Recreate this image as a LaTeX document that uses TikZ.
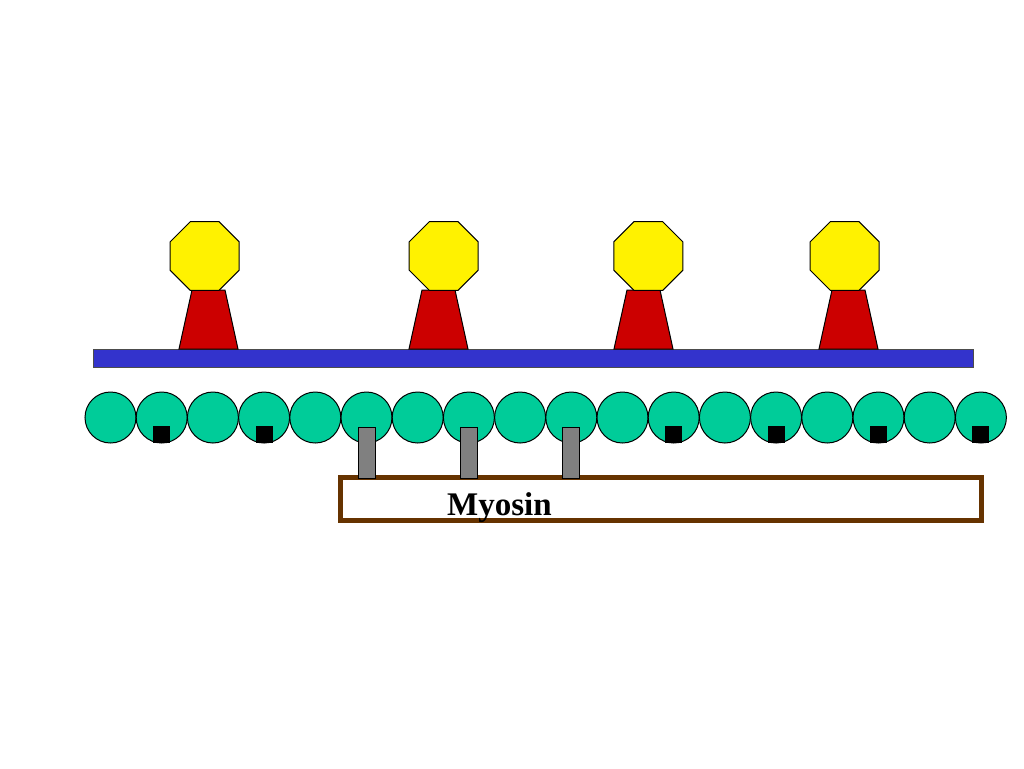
\documentclass[tikz,border=0pt]{standalone}
\usepackage{fontspec}
\setmainfont{Liberation Serif}
\usepackage{tikz}
\usetikzlibrary{positioning,calc}
\definecolor{actingreen}{HTML}{00CC99}
\definecolor{tropoblue}{HTML}{3333CC}
\definecolor{myobrown}{HTML}{663300}
\definecolor{capred}{HTML}{CC0000}
\tikzstyle{bead} = [circle, draw, fill=actingreen, inner sep=0pt,
    minimum size=25.5pt, line width=0.5pt]
\tikzstyle{site} = [rectangle, fill=black, inner sep=0pt,
    minimum width=8.5pt, minimum height=8.5pt]
\tikzstyle{xbridge} = [rectangle, draw, fill=gray, inner sep=0pt,
    minimum width=8.5pt, minimum height=25.5pt, line width=0.5pt]
\tikzstyle{ball} = [draw, fill=yellow, line width=0.5pt]
\tikzstyle{stem} = [draw, fill=capred, line width=0.5pt]
\begin{document}
\begin{tikzpicture}[x=0.5pt,y=-0.5pt]
  \useasboundingbox (0,0) rectangle (1024,768);
  % tropomyosin strand
  \draw[fill=tropoblue, draw=black!70, line width=0.5pt]
    (93,349) rectangle (973,367);
  % troponin: stem and octagon head
  \foreach \xb/\xo [count=\k] in {179/204.7, 409/443.7, 614/648.3, 819/844.7} {
    \draw[stem] (\xb,349) -- (\xb+13,290) -- (\xb+46,290) -- (\xb+59,349) -- cycle;
    \draw[ball] ($(\xo,256)+(22.5:37.3)$)
      \foreach \a in {67.5,112.5,...,337.5} { -- ($(\xo,256)+(\a:37.3)$) } -- cycle;
  }
  % actin beads
  \foreach \i in {1,...,18}
    \node[bead] (b\i) at (59.3+51.2*\i,417.5) {};
  \foreach \i in {2,4,12,14,16,18}
    \node[site, anchor=south] (s\i) at (b\i.south) {};
  % myosin filament with heads
  \node[draw=myobrown, line width=2.2pt, inner sep=0pt, minimum width=320.5pt,
        minimum height=21.5pt] (myo) at (661,499) {};
  \foreach \i in {6,8,10}
    \node[xbridge, anchor=north] (h\i) at ([yshift=-4.5pt]b\i.center) {};
  \node[anchor=base, font=\fontsize{16.5}{18}\selectfont\bfseries]
    (lbl) at (499.5,515) {Myosin};
\end{tikzpicture}
\end{document}
